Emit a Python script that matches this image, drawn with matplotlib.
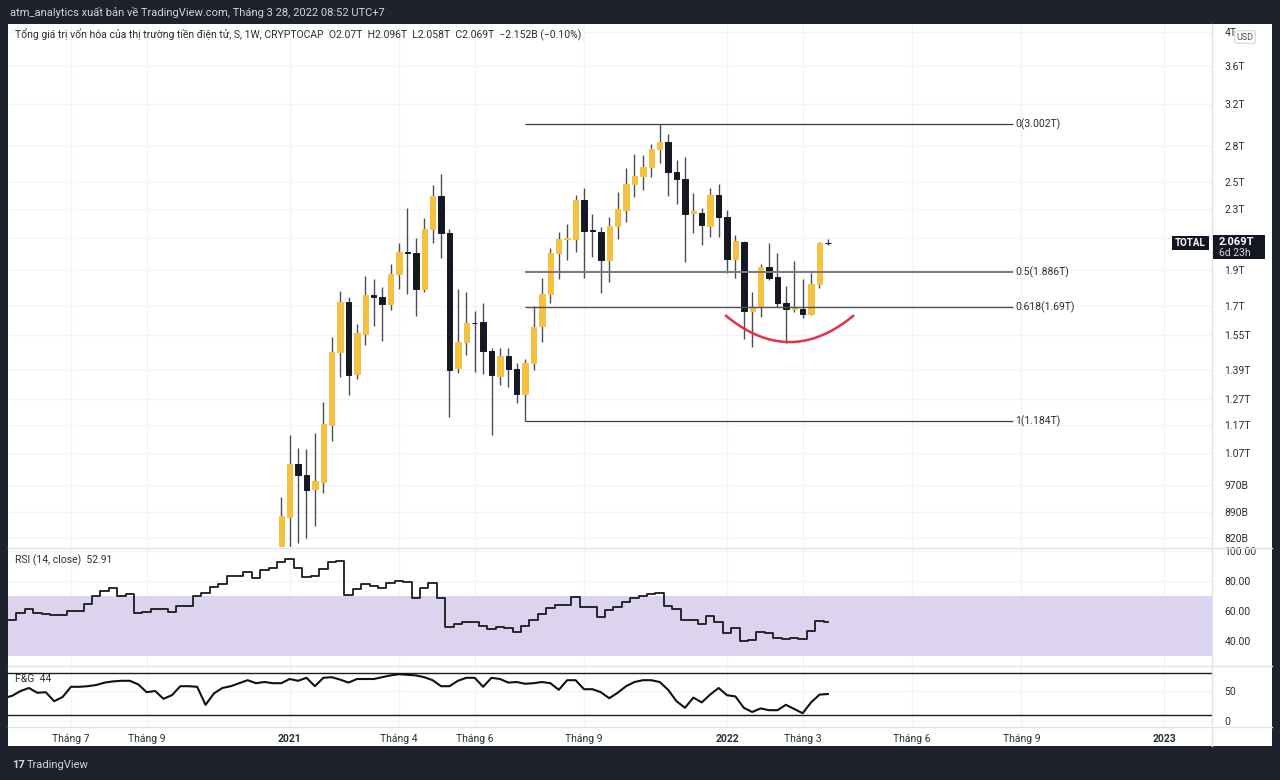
import numpy as np
import pandas as pd
import matplotlib
matplotlib.use("Agg")
import matplotlib.pyplot as plt
import matplotlib.dates as mdates
from matplotlib.patches import Rectangle
from matplotlib.lines import Line2D
from matplotlib.ticker import FixedLocator, NullLocator

plt.rcParams['font.family'] = ['Roboto', 'DejaVu Sans']

# weekly bars (Monday open)
weeks = pd.date_range('2020-05-11', periods=99, freq='W-MON')

# TOTAL crypto market cap, trillion USD, from week of 2020-12-28
opens = [0.767, 0.878, 1.036, 1.001, 0.958, 0.979, 1.170, 1.471, 1.719, 1.372,
         1.556, 1.758, 1.747, 1.708, 1.877, 2.010, 2.004, 1.791, 2.161, 2.396,
         2.134, 1.399, 1.517, 1.612, 1.615, 1.475, 1.364, 1.452, 1.394, 1.289,
         1.421, 1.595, 1.763, 2.004, 2.094, 2.094, 2.366, 2.154, 2.141, 1.961,
         2.181, 2.293, 2.488, 2.551, 2.624, 2.776, 2.837, 2.583, 2.527, 2.272,
         2.272, 2.181, 2.403, 2.244, 1.967, 2.075, 1.672, 1.693, 1.919, 1.859,
         1.714, 1.682, 1.682, 1.656, 1.820, 2.070]
highs = [0.932, 1.134, 1.089, 1.085, 1.141, 1.257, 1.541, 1.780, 1.747, 1.605,
         1.865, 1.848, 1.802, 1.937, 2.068, 2.307, 2.101, 2.237, 2.480, 2.567,
         2.161, 1.791, 1.774, 1.672, 1.714, 1.489, 1.489, 1.489, 1.421, 1.439,
         1.698, 1.853, 2.036, 2.141, 2.195, 2.403, 2.457, 2.265, 2.175, 2.244,
         2.426, 2.615, 2.733, 2.724, 2.820, 3.002, 2.909, 2.682, 2.707, 2.418,
         2.307, 2.457, 2.488, 2.293, 2.121, 2.081, 1.774, 1.937, 2.068, 2.004,
         1.808, 1.955, 1.848, 1.883, 2.075, 2.096]
lows = [0.732, 0.799, 0.809, 0.820, 0.853, 0.946, 1.113, 1.360, 1.285, 1.351,
        1.503, 1.595, 1.522, 1.677, 1.791, 1.763, 1.646, 1.774, 2.068, 1.973,
        1.200, 1.377, 1.457, 1.381, 1.372, 1.134, 1.326, 1.318, 1.253, 1.184,
        1.390, 1.517, 1.714, 1.848, 1.961, 2.010, 1.853, 1.979, 1.769, 1.831,
        2.094, 2.209, 2.388, 2.441, 2.543, 2.657, 2.396, 2.336, 1.949, 2.134,
        2.055, 2.108, 2.108, 1.883, 1.853, 1.532, 1.494, 1.641, 1.842, 1.693,
        1.512, 1.667, 1.636, 1.651, 1.797, 2.058]
closes = [0.880, 1.036, 1.001, 0.955, 0.982, 1.174, 1.471, 1.719, 1.368, 1.561,
          1.758, 1.747, 1.708, 1.877, 2.010, 2.004, 1.791, 2.161, 2.396, 2.134,
          1.390, 1.517, 1.610, 1.610, 1.475, 1.368, 1.452, 1.394, 1.289, 1.421,
          1.590, 1.763, 2.004, 2.094, 2.101, 2.366, 2.147, 2.147, 1.961, 2.181,
          2.300, 2.488, 2.551, 2.624, 2.776, 2.837, 2.583, 2.527, 2.265, 2.286,
          2.188, 2.403, 2.244, 1.967, 2.081, 1.672, 1.693, 1.919, 1.853, 1.714,
          1.682, 1.688, 1.656, 1.820, 2.070, 2.069]

rsi = [54, 54, 58.4, 61.3, 58.4, 57.8, 57, 57.3, 60, 60.2,
       64.7, 70.2, 73.3, 75.1, 70.2, 71.3, 58.4, 59.6, 61, 61.5,
       59.6, 63.6, 63.6, 70.2, 71.8, 76.2, 77.8, 83.6, 83.6, 85.8,
       81.8, 87.3, 88.9, 92.9, 94.4, 88.9, 82.9, 83.3, 88, 92.4,
       93.6, 70.7, 74.7, 77.8, 76.9, 75.6, 78.4, 80.2, 79.6, 68.9,
       75.6, 78.4, 68.4, 49.6, 51.3, 52.9, 52.9, 50.2, 48, 49.6,
       48.9, 45.8, 50, 54, 57.8, 61.8, 64, 64, 69.1, 62.4,
       62.4, 56.2, 60.7, 62.9, 66.2, 68.9, 70.2, 71.3, 72.2, 63.6,
       61.3, 54, 54, 51.1, 56.7, 52.9, 45.1, 48.4, 40, 40.7,
       46.2, 45.1, 41.8, 41.1, 41.8, 41.1, 46.7, 53.3, 52.91]

fng = [38, 42, 50, 55, 47, 48, 33, 40, 57, 57,
       58, 60, 64, 66, 67, 67, 61, 48, 50, 37,
       43, 58, 58, 57, 27, 46, 55, 58, 63, 68,
       63, 65, 63, 63, 70, 67, 72, 58, 72, 73,
       69, 64, 70, 70, 70, 73, 76, 78, 77, 76,
       73, 68, 58, 58, 67, 72, 72, 57, 72, 70,
       64, 65, 62, 63, 65, 63, 52, 68, 68, 53,
       53, 48, 38, 47, 58, 65, 68, 68, 65, 52,
       33, 22, 39, 31, 44, 55, 43, 41, 22, 15,
       21, 18, 18, 27, 20, 13, 31, 44, 45]

fib_ratio = ['0', '0.5', '0.618', '1']
fib_value = [3.002, 1.886, 1.69, 1.184]

price_ticks = [4, 3.6, 3.2, 2.8, 2.5, 2.3, 2.1, 1.9, 1.7, 1.55, 1.39, 1.27, 1.17, 1.07, 0.97, 0.89, 0.82]
price_labels = ['4T', '3.6T', '3.2T', '2.8T', '2.5T', '2.3T', '', '1.9T', '1.7T', '1.55T',
                '1.39T', '1.27T', '1.17T', '1.07T', '970B', '890B', '820B']

time_ticks = ['2020-07-06', '2020-09-07', '2021-01-04', '2021-04-05', '2021-06-07', '2021-09-06',
              '2022-01-03', '2022-03-07', '2022-06-06', '2022-09-05', '2023-01-02']
time_labels = ['Tháng 7', 'Tháng 9', '2021', 'Tháng 4', 'Tháng 6', 'Tháng 9',
               '2022', 'Tháng 3', 'Tháng 6', 'Tháng 9', '2023']

DARK = '#1e222d'
TXT = '#2a2e39'
GRID = '#f3f4f8'
UP = '#f5c141'
DOWN = '#151821'
W, H = 1280, 780


def fx(px):
    return px / W


def fy(py):
    return 1 - py / H


fig = plt.figure(figsize=(12.8, 7.8), dpi=100, facecolor=DARK)
fig.add_artist(Rectangle((fx(8), fy(746)), 1264 / W, 722 / H, transform=fig.transFigure,
                         facecolor='white', edgecolor='none', zorder=-5))

ax = fig.add_axes([fx(8), fy(547), 1204 / W, 523 / H])
ax_rsi = fig.add_axes([fx(8), fy(665), 1204 / W, 116 / H], sharex=ax)
ax_fg = fig.add_axes([fx(8), fy(727), 1204 / W, 60 / H], sharex=ax)

xw = mdates.date2num(weeks)
xc = xw[33:]
ref = mdates.date2num(pd.Timestamp('2022-01-03'))
ax.set_xlim(ref - 85.49 * 7, ref + 57.67 * 7)

# candles
o = np.array(opens)
c = np.array(closes)
up = c >= o
ax.vlines(xc, lows, highs, color='#4a4d56', lw=1.0, zorder=2)
ax.bar(xc, np.abs(c - o), bottom=np.minimum(o, c), width=4.5,
       color=np.where(up, UP, DOWN), edgecolor=np.where(up, UP, DOWN), linewidth=0.7, zorder=3)

ax.set_yscale('log')
ax.set_ylim(0.798, 4.107)
ax.yaxis.set_major_locator(FixedLocator(price_ticks))
ax.yaxis.set_minor_locator(NullLocator())
ax.set_yticklabels(price_labels)

# fib retracement
fib_x0 = xw[62]
fib_x1 = ref + 34 * 7
fib_col = ['#3c3c3c', '#7a7a7a', '#505050', '#3c3c3c']
fib_lw = [0.9, 1.4, 1.0, 0.9]
for r, v, col, lw in zip(fib_ratio, fib_value, fib_col, fib_lw):
    ax.hlines(v, fib_x0, fib_x1, color=col, lw=lw, zorder=4)
    ax.text(fib_x1 + 2, v, f'{r}({v:g}T)', fontsize=7.5, color=TXT, va='center', ha='left')

# hand-drawn rounding bottom
a_x = np.array([ref - 0.1 * 7, ref + 7.0 * 7, ref + 15.0 * 7])
a_y = np.log([1.646, 1.517, 1.646])
coef = np.polyfit(a_x, a_y, 2)
arc_x = np.linspace(a_x[0], a_x[-1], 80)
ax.plot(arc_x, np.exp(np.polyval(coef, arc_x)), color='#e5304a', lw=1.8, zorder=5)

# RSI
ax_rsi.axhspan(30, 70, color='#dcd3ee', lw=0, zorder=1)
ax_rsi.plot(xw, rsi, drawstyle='steps-mid', color='#1a1a1a', lw=1.3, zorder=3)
ax_rsi.set_ylim(24, 101.3)
ax_rsi.yaxis.set_major_locator(FixedLocator([100, 80, 60, 40]))
ax_rsi.set_yticklabels(['100.00', '80.00', '60.00', '40.00'])

# Fear & Greed
ax_fg.axhline(80, color='#1a1a1a', lw=1)
ax_fg.axhline(10, color='#1a1a1a', lw=1)
ax_fg.plot(xw, fng, color='#111111', lw=1.5, zorder=3)
ax_fg.set_ylim(-10, 90)
ax_fg.yaxis.set_major_locator(FixedLocator([50, 0]))
ax_fg.set_yticklabels(['50', '0'])

tt = mdates.date2num(pd.to_datetime(time_ticks))
for a in (ax, ax_rsi, ax_fg):
    a.set_facecolor('white')
    for s in a.spines.values():
        s.set_visible(False)
    a.yaxis.tick_right()
    a.tick_params(axis='y', length=0, pad=9, labelsize=7.5, labelcolor=TXT)
    a.tick_params(axis='x', length=0)
    a.grid(True, color=GRID, lw=1, zorder=0)
    a.set_axisbelow(True)
    for lbl in a.get_yticklabels():
        lbl.set_horizontalalignment('left')

ax_fg.set_xticks(tt)
ax_fg.set_xticklabels(time_labels)
ax_fg.tick_params(axis='x', pad=5, labelsize=7.5, labelcolor=TXT)
for lbl in ax_fg.get_xticklabels():
    if lbl.get_text().isdigit():
        lbl.set_fontweight('bold')
plt.setp(ax.get_xticklabels(), visible=False)
plt.setp(ax_rsi.get_xticklabels(), visible=False)

# pane separators
for py in (548, 666, 727):
    fig.add_artist(Line2D([fx(8), fx(1272)], [fy(py), fy(py)], transform=fig.transFigure,
                          color='#e0e3eb', lw=1))
fig.add_artist(Line2D([fx(1212), fx(1212)], [fy(24), fy(746)], transform=fig.transFigure,
                      color='#e0e3eb', lw=1))

# texts
fig.text(fx(10), fy(12), 'atm_analytics xuất bản về TradingView.com, Tháng 3 28, 2022 08:52 UTC+7',
         color='#d1d4dc', fontsize=8, va='center')
fig.text(fx(15), fy(35), 'Tổng giá trị vốn hóa của thị trường tiền điện tử, S, 1W, CRYPTOCAP  '
         'O2.07T  H2.096T  L2.058T  C2.069T  −2.152B (−0.10%)',
         color=TXT, fontsize=7.5, va='center')
fig.text(fx(15), fy(560), 'RSI (14, close)  52.91', color=TXT, fontsize=7.5, va='center')
fig.text(fx(15), fy(679), 'F&G  44', color=TXT, fontsize=7.5, va='center')

fig.text(fx(1245), fy(37), 'USD', color='#50535e', fontsize=6.5, ha='center', va='center',
         bbox=dict(boxstyle='round,pad=0.2', facecolor='white', edgecolor='#d1d4dc', lw=0.8))

fig.add_artist(Rectangle((fx(1172), fy(250)), 37 / W, 14 / H, transform=fig.transFigure,
                         facecolor='#131722', edgecolor='none', zorder=3))
fig.text(fx(1190.5), fy(243), 'TOTAL', color='white', fontsize=7, fontweight='bold',
         ha='center', va='center', zorder=4)
fig.add_artist(Rectangle((fx(1213), fy(259)), 52 / W, 24 / H, transform=fig.transFigure,
                         facecolor='#131722', edgecolor='none', zorder=3))
fig.text(fx(1219), fy(242), '2.069T', color='white', fontsize=8, fontweight='bold',
         va='center', zorder=4)
fig.text(fx(1219), fy(253), '6d 23h', color='#d1d4dc', fontsize=7.5, va='center', zorder=4)

fig.text(fx(12), fy(765), '17', color='#d1d4dc', fontsize=8, fontweight='bold', va='center')
fig.text(fx(27), fy(765), 'TradingView', color='#d1d4dc', fontsize=8, va='center')

fig.savefig('out.png', dpi=100, facecolor=DARK)
